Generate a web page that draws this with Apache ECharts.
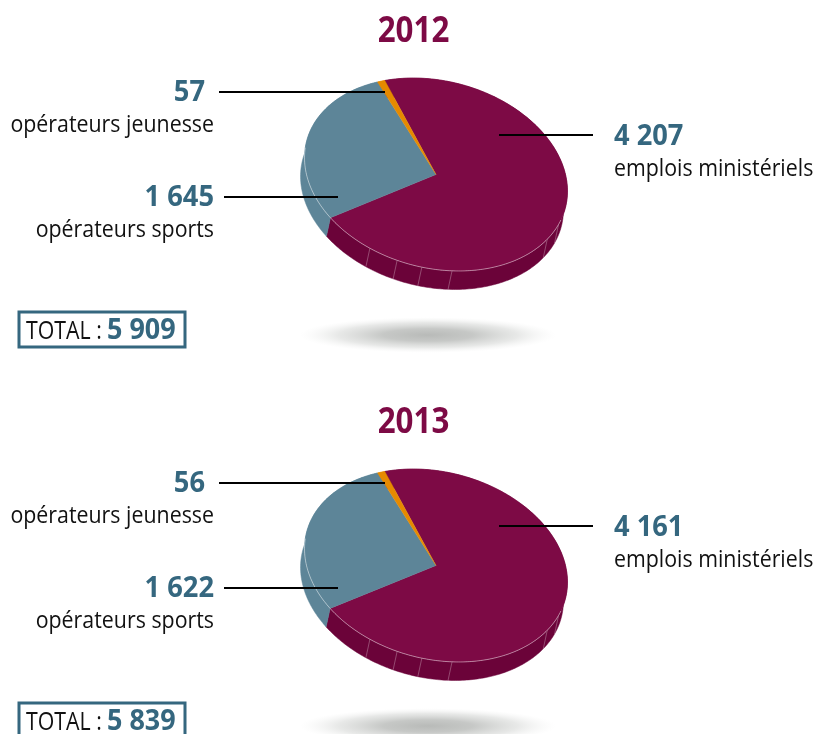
<!DOCTYPE html>
<html><head><meta charset="utf-8">
<style>html,body{margin:0;padding:0;background:#fff;overflow:hidden}#c{width:818px;height:734px}</style>
<script src="https://cdn.jsdelivr.net/npm/echarts@6/dist/echarts.min.js"></script>
</head><body><div id="c"></div>
<script>
const years = ['2012', '2013'];
const categories = ['emplois ministériels', 'opérateurs sports', 'opérateurs jeunesse'];
const values2012 = [4207, 1645, 57];
const values2013 = [4161, 1622, 56];
const totals = [5909, 5839];

const sliceColors = ['#7d0a45', '#5d8598', '#e68a00'];
const sideColors = ['#6b0339', '#5d8598', '#e68a00'];
const MAROON = '#7d0a45', TEAL = '#35677f', INK = '#111111';
const FONT = '"Open Sans", sans-serif';
const PIE = {cx: 436, cy: 174.5, a: 133.6, b: 93.5, tilt: 14.4, startT: -123.1, dx: -4, dy: 18.5};
const YEAR_OFFSET = 391;
const facetAngles = [11, 22, 72.8, 86, 97, 110];
// leader: x1,x2,y ; label: value x, name x, align, value y, name y
const labelLayout = [
  {x1: 499, x2: 593, y: 135, vx: 614, tx: 614, align: 'left', vy: 137, ny: 169},
  {x1: 224, x2: 338, y: 197, vx: 214, tx: 214, align: 'right', vy: 198, ny: 230},
  {x1: 219, x2: 385, y: 92, vx: 205, tx: 214, align: 'right', vy: 93, ny: 125}
];
const fmt = v => String(v).replace(/\B(?=(\d{3})+$)/g, ' ');

function pt(t, off, shift) {
  const r = t * Math.PI / 180, f = PIE.tilt * Math.PI / 180;
  const u = PIE.a * Math.cos(r), v = PIE.b * Math.sin(r);
  return [PIE.cx + u * Math.cos(f) - v * Math.sin(f) + (shift ? PIE.dx : 0),
          PIE.cy + off + u * Math.sin(f) + v * Math.cos(f) + (shift ? PIE.dy : 0)];
}
function arc(t0, t1, off, shift) {
  const pts = [], n = Math.max(2, Math.ceil(Math.abs(t1 - t0)));
  for (let i = 0; i <= n; i++) pts.push(pt(t0 + (t1 - t0) * i / n, off, shift));
  return pts;
}
function makeSeries(values, yi) {
  const off = yi * YEAR_OFFSET, sum = values.reduce((a, b) => a + b, 0);
  return {
    type: 'custom', coordinateSystem: 'none', name: years[yi],
    data: values.map((v, i) => ({value: [v, i], name: categories[i]})),
    silent: true, animation: false,
    renderItem(params, api) {
      const i = api.value(1), v = api.value(0);
      let before = 0;
      for (let k = 0; k < i; k++) before += values[k];
      const t0 = PIE.startT + before / sum * 360, t1 = t0 + v / sum * 360;
      const top = arc(t0, t1, off, false);
      const lo = arc(t1, t0, off, true);
      const children = [
        {type: 'polygon', z2: 1, shape: {points: top.concat(lo)},
         style: {fill: sideColors[i], stroke: sideColors[i], lineWidth: 0.5}},
        {type: 'polygon', z2: 3, shape: {points: [[PIE.cx, PIE.cy + off]].concat(top)},
         style: {fill: sliceColors[i], stroke: sliceColors[i], lineWidth: 0.4}}
      ];
      if (i === 0) {
        facetAngles.forEach(t => children.push({type: 'line', z2: 2,
          shape: {x1: pt(t, off)[0], y1: pt(t, off)[1], x2: pt(t, off, true)[0], y2: pt(t, off, true)[1]},
          style: {stroke: 'rgba(255,255,255,0.28)', lineWidth: 1}}));
        children.push({type: 'polyline', z2: 4, shape: {points: arc(8, 176, off, false)},
          style: {fill: null, stroke: 'rgba(255,255,255,0.45)', lineWidth: 1}});
      }
      const L = labelLayout[i];
      children.push({type: 'line', z2: 6,
        shape: {x1: L.x1, y1: L.y + off, x2: L.x2, y2: L.y + off},
        style: {stroke: '#000', lineWidth: 2}});
      children.push({type: 'text', z2: 6, x: L.vx, y: L.vy + off, scaleX: 0.94,
        style: {text: fmt(v), fill: TEAL, font: 'bold 29px ' + FONT, align: L.align, verticalAlign: 'middle'}});
      children.push({type: 'text', z2: 6, x: L.tx, y: L.ny + off, scaleX: 0.89,
        style: {text: categories[i], fill: INK, font: '24px ' + FONT, align: L.align, verticalAlign: 'middle'}});
      return {type: 'group', children};
    }
  };
}
const graphics = [];
years.forEach((y, yi) => {
  const off = yi * YEAR_OFFSET;
  graphics.push({type: 'text', z: 2, x: 413.5, y: 32 + off, scaleX: 0.87,
    style: {text: y, fill: MAROON, font: 'bold 36px ' + FONT, align: 'center', verticalAlign: 'middle'}});
  graphics.push({type: 'circle', z: -1, x: 428, y: 335 + off, scaleX: 7.2, shape: {cx: 0, cy: 0, r: 17.8},
    style: {fill: new echarts.graphic.RadialGradient(0.5, 0.5, 0.5, [
      {offset: 0, color: 'rgba(184,186,184,1)'},
      {offset: 0.35, color: 'rgba(192,194,192,0.9)'},
      {offset: 0.7, color: 'rgba(208,210,208,0.5)'},
      {offset: 1, color: 'rgba(235,236,235,0)'}])}});
  graphics.push({type: 'rect', z: 1, shape: {x: 19, y: 312 + off, width: 166, height: 35},
    style: {fill: '#fff', stroke: TEAL, lineWidth: 3}});
  graphics.push({type: 'text', z: 2, x: 26, y: 332 + off, scaleX: 0.82,
    style: {text: 'TOTAL :', fill: INK, font: '26px ' + FONT, align: 'left', verticalAlign: 'middle'}});
  graphics.push({type: 'text', z: 2, x: 107, y: 331 + off, scaleX: 0.93,
    style: {text: fmt(totals[yi]), fill: TEAL, font: 'bold 29px ' + FONT, align: 'left', verticalAlign: 'middle'}});
});
const chart = echarts.init(document.getElementById('c'), null, {width: 818, height: 734});
chart.setOption({
  animation: false, backgroundColor: '#fff',
  graphic: graphics,
  series: [makeSeries(values2012, 0), makeSeries(values2013, 1)]
});
</script></body></html>
